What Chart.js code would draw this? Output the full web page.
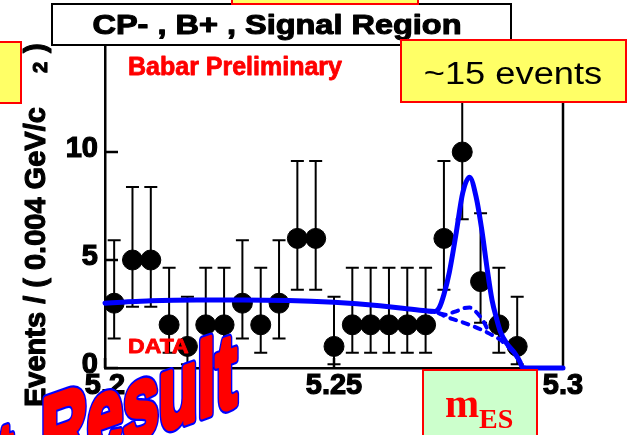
<!DOCTYPE html>
<html>
<head>
<meta charset="utf-8">
<script src="https://cdn.jsdelivr.net/npm/chart.js@4.4.1/dist/chart.umd.min.js"></script>
<style>
  html, body { margin: 0; padding: 0; background: #ffffff; }
  #wrap { width: 629px; height: 435px; }
</style>
</head>
<body>
<div id="wrap"><canvas id="c" width="629" height="435"></canvas></div>
<script>
// m_ES bins (GeV/c^2), 0.004 wide, and the event counts per bin
const binCenters = [5.202, 5.206, 5.210, 5.214, 5.218, 5.222, 5.226, 5.230, 5.234, 5.238,
                    5.242, 5.246, 5.250, 5.254, 5.258, 5.262, 5.266, 5.270, 5.274, 5.278,
                    5.282, 5.286, 5.290];
const counts     = [3, 5, 5, 2, 1, 2, 2, 3, 2, 3, 6, 6, 1, 2, 2, 2, 2, 2, 6, 10, 4, 2, 1];
// asymmetric Poisson intervals drawn as error bars
const errLow  = [1.37, 2.84, 2.84, 0.71, 0.17, 0.71, 0.71, 1.37, 0.71, 1.37, 3.62, 3.62, 0.17,
                 0.71, 0.71, 0.71, 0.71, 0.71, 3.62, 6.89, 2.09, 0.71, 0.17];
const errHigh = [5.92, 8.38, 8.38, 4.64, 3.30, 4.64, 4.64, 5.92, 4.64, 5.92, 9.58, 9.58, 3.30,
                 4.64, 4.64, 4.64, 4.64, 4.64, 9.58, 14.27, 7.16, 4.64, 3.30];

// total fit (ARGUS background + signal peak)
const fitX = [5.2000, 5.2050, 5.2100, 5.2150, 5.2200, 5.2250, 5.2300, 5.2350, 5.2400, 5.2450,
              5.2500, 5.2550, 5.2600, 5.2650, 5.2700, 5.2720, 5.2730, 5.2740, 5.2752, 5.2766,
              5.2781, 5.2796, 5.2811, 5.2823, 5.2834, 5.2845, 5.2855, 5.2863, 5.2877, 5.2895,
              5.2906, 5.2911, 5.2920, 5.3000];
const fitY = [3.00, 3.07, 3.11, 3.14, 3.15, 3.15, 3.15, 3.14, 3.12, 3.09,
              3.04, 2.97, 2.88, 2.77, 2.65, 2.62, 2.80, 3.40, 4.45, 6.15,
              8.10, 8.83, 7.85, 6.35, 4.65, 3.15, 2.28, 1.70, 1.14, 0.68,
              0.29, 0.03, 0.00, 0.00];

// combinatorial background alone
const bkgX = [5.2700, 5.2731, 5.2742, 5.2760, 5.2775, 5.2797, 5.2823, 5.2845, 5.2862, 5.2877,
              5.2895, 5.2906, 5.2912];
const bkgY = [2.65, 2.52, 2.40, 2.26, 2.16, 1.99, 1.76, 1.53, 1.32, 1.05,
              0.64, 0.27, 0.00];

// background including the peaking component
const peakBkgX = [5.2731, 5.2745, 5.2756, 5.2771, 5.2784, 5.2796, 5.2810, 5.2825, 5.2840];
const peakBkgY = [2.52, 2.47, 2.55, 2.66, 2.77, 2.80, 2.60, 2.20, 1.60];

const xTicks = [5.2, 5.25, 5.3];
const yTicks = [0, 5, 10];

const SANS = "'Liberation Sans', Arial, Helvetica, sans-serif";
const SERIF = "'Liberation Serif', 'Times New Roman', serif";
const BLUE = '#0000ff';

function pts(xs, ys) { return xs.map((x, i) => ({ x: x, y: ys[i] })); }

// text with optional horizontal stretch and a thin same-colour stroke for weight
function drawText(ctx, s, x, y, font, color, align, sx, heavy) {
  ctx.save();
  ctx.font = font;
  ctx.fillStyle = color;
  ctx.textAlign = align;
  ctx.textBaseline = 'alphabetic';
  ctx.translate(x, y);
  ctx.scale(sx, 1);
  ctx.fillText(s, 0, 0);
  if (heavy) {
    ctx.strokeStyle = color;
    ctx.lineWidth = heavy;
    ctx.lineJoin = 'round';
    ctx.strokeText(s, 0, 0);
  }
  ctx.restore();
}

function box(ctx, x, y, w, h, fill, stroke, lw) {
  ctx.save();
  ctx.fillStyle = fill;
  ctx.fillRect(x, y, w, h);
  ctx.strokeStyle = stroke;
  ctx.lineWidth = lw;
  ctx.strokeRect(x, y, w, h);
  ctx.restore();
}

// outlined banner lettering on a rising (sheared) baseline
function banner(ctx, s, x, y, size, sx, align) {
  ctx.save();
  ctx.font = 'bold ' + size + 'px ' + SANS;
  ctx.translate(x, y);
  ctx.transform(1, -0.35, 0, 1, 0, 0);
  ctx.scale(sx, 1);
  ctx.textBaseline = 'alphabetic';
  ctx.textAlign = align;
  ctx.lineJoin = 'round';
  ctx.strokeStyle = BLUE;
  ctx.lineWidth = 10;
  ctx.strokeText(s, 0, 0);
  ctx.strokeStyle = '#ff0000';
  ctx.lineWidth = 5.5;
  ctx.strokeText(s, 0, 0);
  ctx.fillStyle = '#ff0000';
  ctx.fillText(s, 0, 0);
  ctx.restore();
}

// frame, inward ticks and error bars under the markers
const framePlugin = {
  id: 'frame',
  beforeDatasetsDraw(chart) {
    const { ctx, chartArea: a, scales: { x, y } } = chart;
    ctx.save();
    ctx.strokeStyle = '#000';
    ctx.lineWidth = 2.5;
    ctx.beginPath();
    ctx.moveTo(a.right, a.top);
    ctx.lineTo(a.right, a.bottom);
    ctx.moveTo(a.left, a.top);
    ctx.lineTo(a.right, a.top);
    yTicks.forEach(v => {
      const py = y.getPixelForValue(v);
      ctx.moveTo(a.left, py);
      ctx.lineTo(a.left + 13, py);
    });
    xTicks.forEach(v => {
      const px = x.getPixelForValue(v);
      ctx.moveTo(px, a.bottom);
      ctx.lineTo(px, a.bottom - 10);
    });
    ctx.stroke();

    ctx.lineWidth = 2;
    ctx.beginPath();
    binCenters.forEach((c, i) => {
      const px = x.getPixelForValue(c);
      const lo = y.getPixelForValue(errLow[i]);
      const hi = y.getPixelForValue(errHigh[i]);
      ctx.moveTo(px, lo); ctx.lineTo(px, hi);
      ctx.moveTo(px - 6.5, lo); ctx.lineTo(px + 6.5, lo);
      ctx.moveTo(px - 6.5, hi); ctx.lineTo(px + 6.5, hi);
    });
    ctx.stroke();
    ctx.restore();
  },
  afterDraw(chart) {
    const ctx = chart.ctx;

    // y-axis title
    ctx.save();
    ctx.translate(45, 407);
    ctx.rotate(-Math.PI / 2);
    ctx.fillStyle = '#000';
    ctx.strokeStyle = '#000';
    ctx.lineWidth = 1.1;
    ctx.lineJoin = 'round';
    ctx.textBaseline = 'alphabetic';
    ctx.textAlign = 'left';
    ctx.font = 'bold 29px ' + SANS;
    ctx.fillText('Events / ( 0.004 GeV/c', 0, 0);
    ctx.strokeText('Events / ( 0.004 GeV/c', 0, 0);
    ctx.font = 'bold 20px ' + SANS;
    ctx.fillText('2', 334, 2);
    ctx.strokeText('2', 334, 2);
    ctx.font = 'bold 29px ' + SANS;
    ctx.fillText(')', 354, 0);
    ctx.strokeText(')', 354, 0);
    ctx.restore();

    // title box
    box(ctx, 52, 4, 459, 41, '#ffffff', '#000000', 2);
    drawText(ctx, 'CP- , B+ , Signal Region', 277, 33.5, 'bold 28px ' + SANS, '#000', 'center', 1.16, 1.1);
    // boxes at the page edges
    box(ctx, 232, -40, 186, 44, '#ffff66', '#ff0000', 2);
    box(ctx, -3, 42, 24, 61, '#ffff66', '#ff0000', 2);

    drawText(ctx, 'Babar Preliminary', 128, 75, 'bold 25px ' + SANS, '#ff0000', 'left', 1.0, 0.8);

    box(ctx, 401, 40, 225, 62, '#ffff66', '#ff0000', 2);
    drawText(ctx, '~15 events', 513, 84, '31px ' + SANS, '#000', 'center', 1.17, 0);

    drawText(ctx, 'DATA', 128, 353, 'bold 21px ' + SANS, '#ff0000', 'left', 1.1, 0.8);

    // m_ES label box
    box(ctx, 423, 370, 114, 80, '#ccffcc', '#ff0000', 2);
    drawText(ctx, 'm', 445, 417, 'bold 41px ' + SERIF, '#ff0000', 'left', 1.0, 0);
    drawText(ctx, 'ES', 479, 428, 'bold 28px ' + SERIF, '#ff0000', 'left', 1.0, 0);

    // slanted banner text
    banner(ctx, 'Fit', 13, 476, 78, 0.6, 'right');
    banner(ctx, 'Result', 41, 473, 105, 0.61, 'left');
  }
};

const tickFont = { family: SANS, weight: 'bold', size: 29 };

new Chart(document.getElementById('c'), {
  type: 'scatter',
  data: {
    datasets: [
      {
        label: 'fit',
        data: pts(fitX, fitY),
        showLine: true,
        borderColor: BLUE,
        borderWidth: 5,
        borderCapStyle: 'round',
        borderJoinStyle: 'round',
        cubicInterpolationMode: 'monotone',
        pointRadius: 0,
        clip: 8,
        order: 0
      },
      {
        label: 'background',
        data: pts(bkgX, bkgY),
        showLine: true,
        borderColor: BLUE,
        borderWidth: 4,
        borderDash: [6, 7],
        borderCapStyle: 'round',
        cubicInterpolationMode: 'monotone',
        pointRadius: 0,
        clip: 8,
        order: 1
      },
      {
        label: 'background + peaking',
        data: pts(peakBkgX, peakBkgY),
        showLine: true,
        borderColor: BLUE,
        borderWidth: 4,
        borderDash: [6, 7],
        borderCapStyle: 'round',
        cubicInterpolationMode: 'monotone',
        pointRadius: 0,
        clip: 8,
        order: 2
      },
      {
        label: 'data',
        data: pts(binCenters, counts),
        showLine: false,
        pointRadius: 10,
        pointBackgroundColor: '#000',
        pointBorderColor: '#000',
        pointBorderWidth: 1,
        clip: 12,
        order: 3
      }
    ]
  },
  options: {
    responsive: false,
    devicePixelRatio: 1,
    animation: false,
    events: [],
    layout: { padding: { left: 0, top: 44, right: 66, bottom: 0 } },
    plugins: { legend: { display: false }, tooltip: { enabled: false } },
    scales: {
      x: {
        type: 'linear',
        min: 5.2,
        max: 5.3,
        afterBuildTicks: s => { s.ticks = xTicks.map(v => ({ value: v })); },
        afterFit: s => { s.height = 67; },
        grid: { display: false, drawTicks: false },
        border: { display: true, color: '#000', width: 2.5 },
        ticks: {
          autoSkip: false,
          maxRotation: 0,
          padding: 1,
          color: '#000',
          textStrokeColor: '#000',
          textStrokeWidth: 1.2,
          font: tickFont,
          callback: v => String(v)
        }
      },
      y: {
        type: 'linear',
        min: 0,
        max: 15,
        afterBuildTicks: s => { s.ticks = yTicks.map(v => ({ value: v })); },
        afterFit: s => { s.width = 105; },
        grid: { display: false, drawTicks: false },
        border: { display: true, color: '#000', width: 2.5 },
        ticks: {
          autoSkip: false,
          padding: 7,
          labelOffset: -3,
          color: '#000',
          textStrokeColor: '#000',
          textStrokeWidth: 1.2,
          font: tickFont,
          callback: v => String(v)
        }
      }
    }
  },
  plugins: [framePlugin]
});
</script>
</body>
</html>
